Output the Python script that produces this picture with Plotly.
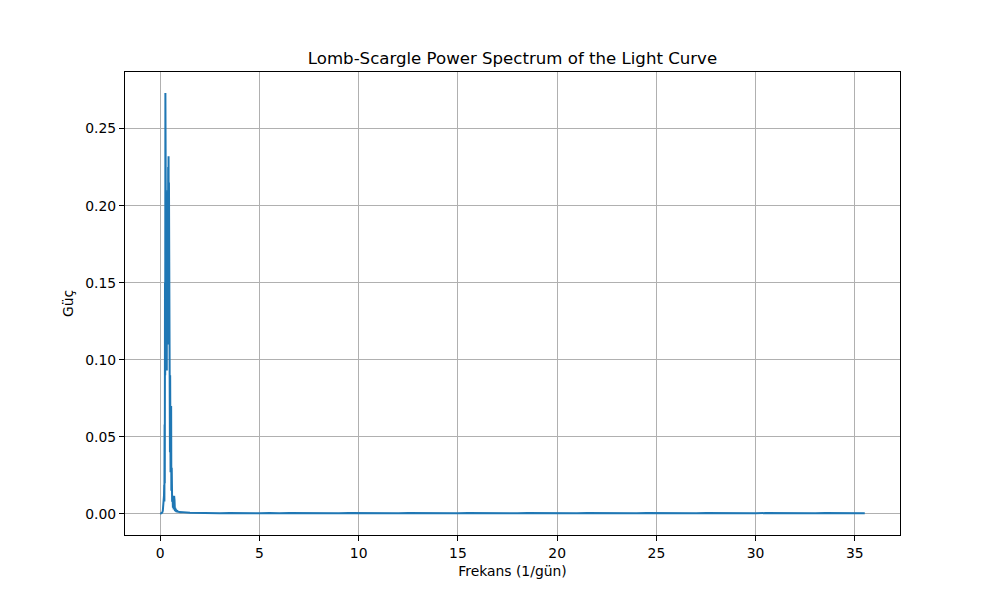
import plotly.graph_objects as go

# Lomb-Scargle power
# low-frequency part with the main peaks (1/gün)
freq_peak = [0.00, 0.05, 0.10, 0.13, 0.15, 0.17, 0.19, 0.20, 0.21, 0.22,
             0.23, 0.24, 0.25, 0.26, 0.27, 0.28, 0.29, 0.30, 0.31, 0.32,
             0.33, 0.34, 0.35, 0.36, 0.37, 0.38, 0.39, 0.40, 0.41, 0.42,
             0.43, 0.44, 0.45, 0.46, 0.47, 0.48, 0.49, 0.50, 0.52, 0.54,
             0.55, 0.56, 0.58, 0.60, 0.62, 0.64, 0.66, 0.68, 0.70, 0.71,
             0.72, 0.74, 0.76, 0.78, 0.80, 0.82, 0.84, 0.86, 0.88, 0.90,
             0.92, 0.94, 0.96, 0.98, 1.00]
power_peak = [0.0000, 0.0003, 0.0008, 0.0020, 0.0065, 0.0030, 0.0120, 0.0190, 0.0080, 0.0580,
              0.0200, 0.1500, 0.0900, 0.2730, 0.1800, 0.2600, 0.1300, 0.2190, 0.1000, 0.1700,
              0.0930, 0.1900, 0.1400, 0.2000, 0.1100, 0.2100, 0.1500, 0.2250, 0.1300, 0.2320,
              0.1600, 0.2150, 0.0900, 0.1980, 0.1000, 0.1500, 0.0400, 0.0900, 0.0270, 0.0500,
              0.0700, 0.0150, 0.0300, 0.0080, 0.0120, 0.0040, 0.0080, 0.0030, 0.0117, 0.0060,
              0.0090, 0.0020, 0.0040, 0.0015, 0.0030, 0.0012, 0.0025, 0.0010, 0.0020, 0.0010,
              0.0018, 0.0009, 0.0014, 0.0008, 0.0012]

# noise floor up to the end of the frequency grid
freq_floor = [1.5, 2.0, 2.5, 3.0, 3.5, 4.0, 4.5, 5.0, 5.5, 6.0,
              6.5, 7.0, 7.5, 8.0, 8.5, 9.0, 9.5, 10.0, 10.5, 11.0,
              11.5, 12.0, 12.5, 13.0, 13.5, 14.0, 14.5, 15.0, 15.5, 16.0,
              16.5, 17.0, 17.5, 18.0, 18.5, 19.0, 19.5, 20.0, 20.5, 21.0,
              21.5, 22.0, 22.5, 23.0, 23.5, 24.0, 24.5, 25.0, 25.5, 26.0,
              26.5, 27.0, 27.5, 28.0, 28.5, 29.0, 29.5, 30.0, 30.5, 31.0,
              31.5, 32.0, 32.5, 33.0, 33.5, 34.0, 34.5, 35.0, 35.5]
power_floor = [0.0008, 0.0006, 0.0007, 0.0005, 0.0007, 0.0005, 0.0006, 0.0005, 0.0007, 0.0004,
               0.0006, 0.0005, 0.0007, 0.0005, 0.0006, 0.0004, 0.0006, 0.0005, 0.0007, 0.0005,
               0.0006, 0.0004, 0.0006, 0.0005, 0.0007, 0.0005, 0.0006, 0.0004, 0.0006, 0.0005,
               0.0007, 0.0005, 0.0006, 0.0004, 0.0006, 0.0005, 0.0007, 0.0005, 0.0006, 0.0004,
               0.0006, 0.0005, 0.0007, 0.0005, 0.0006, 0.0004, 0.0006, 0.0005, 0.0007, 0.0005,
               0.0006, 0.0004, 0.0006, 0.0005, 0.0007, 0.0005, 0.0006, 0.0004, 0.0006, 0.0005,
               0.0007, 0.0005, 0.0006, 0.0004, 0.0006, 0.0005, 0.0006, 0.0005, 0.0004]

x_ticks = [0, 5, 10, 15, 20, 25, 30, 35]
y_ticks = [0.00, 0.05, 0.10, 0.15, 0.20, 0.25]

GRID = "#b0b0b0"
FONT = "DejaVu Sans"

fig = go.Figure()
fig.add_trace(go.Scatter(
    x=freq_peak + freq_floor, y=power_peak + power_floor, mode="lines",
    line=dict(color="#1f77b4", width=2), showlegend=False,
))

axis_common = dict(
    showgrid=True, gridcolor=GRID, gridwidth=1,
    showline=True, linecolor="black", linewidth=1, mirror=True,
    ticks="outside", ticklen=5, tickcolor="black", tickwidth=1,
    tickfont=dict(size=13.9, color="black", family=FONT),
    zeroline=False,
)

# page body has an 8px margin, so the figure is 992x592 and sits at (8, 8)
fig.update_layout(
    width=992, height=592,
    margin=dict(l=117, r=100, t=64, b=65),
    paper_bgcolor="white", plot_bgcolor="white",
    font=dict(family=FONT, color="black"),
    title=dict(text="Lomb-Scargle Power Spectrum of the Light Curve",
               x=0.5, xref="paper", xanchor="center",
               y=1 - 50 / 592, yanchor="middle",
               font=dict(size=16.6, color="black", family=FONT)),
    xaxis=dict(range=[-1.775, 37.275], tickvals=x_ticks,
               ticktext=[str(v) for v in x_ticks],
               title=dict(text="Frekans (1/gün)", font=dict(size=13.9), standoff=6),
               **axis_common),
    yaxis=dict(range=[-0.01365, 0.2867], tickvals=y_ticks,
               ticktext=[f"{v:.2f}" for v in y_ticks],
               title=dict(text="Güç", font=dict(size=13.9), standoff=8),
               **axis_common),
)

fig.write_html("out.html")
